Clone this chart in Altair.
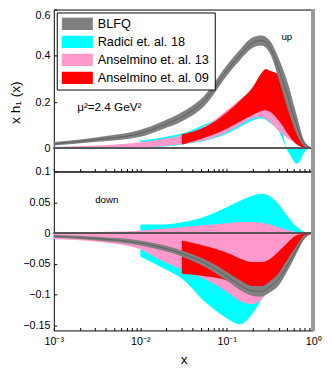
import altair as alt
import pandas as pd

FONT = "Liberation Sans"
SERIES = ["BLFQ", "Radici et. al.  18", "Anselmino et. al. 13", "Anselmino et. al. 09"]
COLORS = ["#808080", "#00ffff", "#ff99cc", "#ff0000"]

# common x grid (log-spaced positions)
X_ALL = [0.001, 0.00316, 0.01, 0.0178, 0.0316, 0.0562, 0.1, 0.141, 0.2, 0.251,
         0.316, 0.398, 0.501, 0.631, 0.794, 1.0]

# ---------------- up quark ----------------
up_blfq_lo = [0.012, 0.028, 0.05, 0.082, 0.12, 0.186, 0.314, 0.38, 0.435, 0.445,
              0.41, 0.30, 0.175, 0.068, 0.008, 0.0]
up_blfq_hi = [0.027, 0.048, 0.08, 0.115, 0.16, 0.232, 0.359, 0.425, 0.48, 0.488,
              0.465, 0.39, 0.29, 0.155, 0.03, 0.0]
up_blfq_mid = [0.019, 0.038, 0.065, 0.098, 0.14, 0.209, 0.336, 0.402, 0.457, 0.466,
               0.437, 0.345, 0.232, 0.11, 0.018, 0.0]

up_pink_lo = [0.0, 0.0, 0.001, 0.01, 0.02, 0.035, 0.07, 0.10, 0.13, 0.135,
              0.115, 0.075, 0.045, 0.02, 0.004, 0.0]
up_pink_hi = [0.006, 0.012, 0.026, 0.04, 0.058, 0.095, 0.165, 0.21, 0.25, 0.265,
              0.255, 0.2, 0.12, 0.055, 0.012, 0.0]

X_CYAN_UP = [0.01, 0.0178, 0.0316, 0.0562, 0.1, 0.141, 0.2, 0.251, 0.316, 0.398,
             0.501, 0.562, 0.631, 0.708, 0.794, 0.891, 1.0]
up_cyan_lo = [0.002, 0.008, 0.018, 0.033, 0.063, 0.092, 0.122, 0.13, 0.11, 0.075,
              -0.008, -0.04, -0.067, -0.05, -0.015, -0.002, 0.0]
up_cyan_hi = [0.034, 0.047, 0.066, 0.104, 0.15, 0.19, 0.23, 0.25, 0.24, 0.17,
              0.0, 0.0, 0.0, 0.0, 0.0, 0.0, 0.0]

X_RED_UP = [0.0302, 0.0562, 0.1, 0.141, 0.2, 0.251, 0.282, 0.316, 0.398, 0.447,
            0.501, 0.631, 0.708, 0.794, 0.891, 1.0]
up_red_lo = [0.016, 0.047, 0.085, 0.115, 0.145, 0.162, 0.165, 0.158, 0.12, 0.095,
             0.065, 0.02, 0.008, 0.002, 0.0, 0.0]
up_red_hi = [0.061, 0.092, 0.155, 0.205, 0.265, 0.325, 0.343, 0.335, 0.318, 0.30,
             0.22, 0.105, 0.05, 0.01, 0.0, 0.0]

# ---------------- down quark ----------------
dn_blfq_lo = [-0.007, -0.012, -0.02, -0.028, -0.039, -0.055, -0.077, -0.092, -0.102,
              -0.103, -0.096, -0.085, -0.062, -0.035, -0.009, 0.0]
dn_blfq_hi = [-0.003, -0.006, -0.012, -0.019, -0.029, -0.043, -0.063, -0.076, -0.086,
              -0.086, -0.078, -0.065, -0.043, -0.022, -0.004, 0.0]
dn_blfq_mid = [-0.005, -0.009, -0.016, -0.0235, -0.034, -0.049, -0.07, -0.084, -0.094,
               -0.0945, -0.087, -0.075, -0.0525, -0.0285, -0.0065, 0.0]

dn_pink_lo = [-0.01, -0.014, -0.026, -0.045, -0.06, -0.075, -0.095, -0.11, -0.115,
              -0.108, -0.09, -0.068, -0.04, -0.017, -0.004, 0.0]
dn_pink_hi = [0.001, 0.002, 0.004, 0.007, 0.01, 0.013, 0.016, 0.018, 0.018, 0.017,
              0.014, 0.009, 0.005, 0.002, 0.0005, 0.0]

X_CYAN_DN = [0.01, 0.0178, 0.0316, 0.0562, 0.1, 0.141, 0.2, 0.251, 0.316, 0.398,
             0.501, 0.631, 0.794, 1.0]
dn_cyan_lo = [-0.038, -0.056, -0.076, -0.112, -0.138, -0.148, -0.13, -0.108, -0.086,
              -0.064, -0.04, -0.018, -0.003, 0.0]
dn_cyan_hi = [0.014, 0.014, 0.018, 0.027, 0.042, 0.052, 0.061, 0.064, 0.06, 0.047,
              0.028, 0.011, 0.002, 0.0]

X_RED_DN = [0.0302, 0.0562, 0.1, 0.141, 0.2, 0.251, 0.316, 0.398, 0.501, 0.631,
            0.794, 1.0]
dn_red_lo = [-0.066, -0.07, -0.077, -0.091, -0.098, -0.096, -0.085, -0.068, -0.045,
             -0.024, -0.004, 0.0]
dn_red_hi = [-0.012, -0.021, -0.032, -0.041, -0.047, -0.047, -0.042, -0.03, -0.016,
             -0.004, -0.001, 0.0]

X_TICKS = [0.001, 0.002, 0.003, 0.004, 0.005, 0.006, 0.007, 0.008, 0.009,
           0.01, 0.02, 0.03, 0.04, 0.05, 0.06, 0.07, 0.08, 0.09,
           0.1, 0.2, 0.3, 0.4, 0.5, 0.6, 0.7, 0.8, 0.9, 1.0]
Y_TICKS_UP = [0, 0.2, 0.4, 0.6]
Y_TICKS_DN = [0.1, 0.05, 0, -0.05, -0.1, -0.15]

ANN_MU = pd.DataFrame({"x": [0.00186], "y": [0.179], "t": ["μ²=2.4 GeV²"]})
ANN_UP = pd.DataFrame({"x": [0.495], "y": [0.48], "t": ["up"]})
ANN_DN = pd.DataFrame({"x": [0.0041], "y": [0.054], "t": ["down"]})


def band(x, lo, hi, name):
    return pd.DataFrame({"x": x, "lo": lo, "hi": hi, "series": name})


def line(x, mid):
    return pd.DataFrame({"x": x, "mid": mid})


xscale = alt.Scale(type="log", domain=[0.001, 1], nice=False)
yscale_up = alt.Scale(domain=[-0.1, 0.6001], nice=False, zero=False)
yscale_dn = alt.Scale(domain=[-0.158, 0.1001], nice=False, zero=False)

label_expr = ("datum.value == 0.001 ? '10⁻³' : datum.value == 0.01 ? '10⁻²' : "
              "datum.value == 0.1 ? '10⁻¹' : datum.value == 1 ? '10⁰' : ''")

x_axis_up = alt.Axis(values=X_TICKS, labels=False, title=None, domain=False,
                     ticks=True, tickSize=3, offset=-3, grid=False,
                     minExtent=0, maxExtent=0)
x_axis_dn = alt.Axis(values=X_TICKS, labelExpr=label_expr, title="x", domain=False,
                     ticks=True, tickSize=3, offset=-3, grid=False, labelPadding=5,
                     labelOverlap=False, labelFlush=False, titleFontSize=14,
                     titlePadding=7)
y_axis_up = alt.Axis(values=Y_TICKS_UP, format="~g", title="x h₁ (x)", domain=False,
                     tickSize=3, offset=-3, grid=False, labelPadding=4,
                     labelOverlap=False, labelFlush=True,
                     titleFontSize=14, titleX=-35, titleY=95)
y_axis_dn = alt.Axis(values=Y_TICKS_DN, format="~g", title=None, domain=False,
                     tickSize=3, offset=-3, grid=False, labelPadding=4,
                     labelOverlap=False, labelFlush=False)

legend = alt.Legend(title=None, orient="top-left", offset=3,
                    symbolType="M-1,-0.4H1V0.4H-1Z", symbolSize=1024,
                    symbolStrokeWidth=0, symbolOpacity=1, clipHeight=13,
                    labelFont=FONT, labelFontSize=13, labelColor="black",
                    labelOffset=5, labelLimit=0, padding=5, rowPadding=4.5,
                    strokeColor="black", fillColor="white")


def color_enc(leg):
    return alt.Color("series:N", scale=alt.Scale(domain=SERIES, range=COLORS),
                     legend=leg)


def text_layer(df, ysc, xax, yax, align, size):
    return (alt.Chart(df).mark_text(font=FONT, color="black", baseline="middle",
                                    align=align, fontSize=size)
            .encode(x=alt.X("x:Q", scale=xscale, axis=xax),
                    y=alt.Y("y:Q", scale=ysc, axis=yax),
                    text="t:N"))


def panel(bands, mid_df, ysc, xax, yax, leg, anns):
    layers = []
    for df in bands:
        layers.append(
            alt.Chart(df).mark_area(opacity=1, interpolate="monotone", strokeWidth=0)
            .encode(x=alt.X("x:Q", scale=xscale, axis=xax),
                    y=alt.Y("lo:Q", scale=ysc, axis=yax),
                    y2="hi:Q",
                    color=color_enc(leg))
        )
    layers.append(
        alt.Chart(mid_df).mark_line(color="#555555", strokeWidth=0.8,
                                    interpolate="monotone")
        .encode(x=alt.X("x:Q", scale=xscale, axis=xax),
                y=alt.Y("mid:Q", scale=ysc, axis=yax))
    )
    layers.append(
        alt.Chart(mid_df).mark_rule(color="#555555", strokeWidth=1)
        .encode(y=alt.YDatum(0, scale=ysc, axis=yax))
    )
    layers.append(
        alt.Chart(mid_df).mark_rule(color="#999999", strokeWidth=3)
        .encode(x=alt.XDatum(1, scale=xscale, axis=xax))
    )
    layers.extend(anns)
    return alt.layer(*layers)


top = panel(
    [band(X_CYAN_UP, up_cyan_lo, up_cyan_hi, SERIES[1]),
     band(X_ALL, up_pink_lo, up_pink_hi, SERIES[2]),
     band(X_RED_UP, up_red_lo, up_red_hi, SERIES[3]),
     band(X_ALL, up_blfq_lo, up_blfq_hi, SERIES[0])],
    line(X_ALL, up_blfq_mid), yscale_up, x_axis_up, y_axis_up, legend,
    [text_layer(ANN_MU, yscale_up, x_axis_up, y_axis_up, "left", 12),
     text_layer(ANN_UP, yscale_up, x_axis_up, y_axis_up, "center", 10)],
).properties(width=266, height=166)

bottom = panel(
    [band(X_CYAN_DN, dn_cyan_lo, dn_cyan_hi, SERIES[1]),
     band(X_ALL, dn_pink_lo, dn_pink_hi, SERIES[2]),
     band(X_RED_DN, dn_red_lo, dn_red_hi, SERIES[3]),
     band(X_ALL, dn_blfq_lo, dn_blfq_hi, SERIES[0])],
    line(X_ALL, dn_blfq_mid), yscale_dn, x_axis_dn, y_axis_dn, None,
    [text_layer(ANN_DN, yscale_dn, x_axis_dn, y_axis_dn, "center", 10)],
).properties(width=266, height=163)

chart = (
    alt.vconcat(top, bottom, spacing=0, bounds="flush")
    .resolve_scale(color="independent")
    .resolve_legend(color="independent")
    .properties(padding={"left": 0, "top": -5, "right": 2, "bottom": 0})
    .configure_view(stroke="black", strokeWidth=1)
    .configure_axis(labelFont=FONT, labelFontSize=11, labelColor="black",
                    titleFont=FONT, titleFontWeight="normal", titleColor="black",
                    tickColor="black", tickWidth=1)
    .configure_legend(labelFont=FONT, labelFontSize=13, labelColor="black")
)

chart.save("out.html", embed_options={"renderer": "svg", "actions": False})
